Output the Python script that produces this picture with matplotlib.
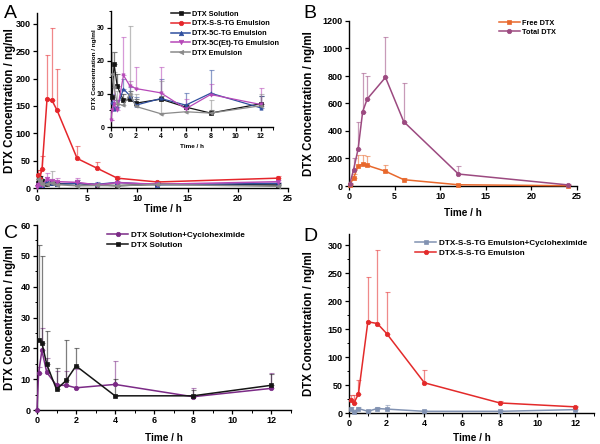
import numpy as np
import matplotlib
matplotlib.use("Agg")
import matplotlib.pyplot as plt
from matplotlib.ticker import MultipleLocator

plt.rcParams['font.family'] = ['Liberation Sans', 'DejaVu Sans']
plt.rcParams['font.weight'] = 'bold'

# ---------------- data ----------------
# Values are means; *_top are the tops of the (upper-only) error bars.
# Panel A (main + inset) time points, h
tA = [0.083, 0.25, 0.5, 1, 1.5, 2, 4, 6, 8, 12, 24]
sol_A = [9, 19, 12.3, 8.0, 8.3, 7.2, 8.4, 6.0, 4.2, 7.0, 5.5]
sol_A_top = [12, 22.7, 16, 10, 11, 8.5, 9.5, 7, 5, 9.5, 7]
ss_A = [24, 17, 34, 163, 160, 142, 54, 36, 18, 11, 18]
ss_A_top = [32, 33, 59, 244, 292, 217, 77, 48, 22, 13, 22]
c5_A = [7.5, 5.5, 6, 11.5, 9.5, 6.6, 8.6, 6.6, 10.2, 5.8, 8.5]
c5_A_top = [10, 8, 8, 14.5, 12, 9, 14.5, 10.2, 17.2, 9.5, 10]
tA_et = [0, 0.083, 0.25, 0.5, 1, 1.5, 2, 4, 6, 8, 12, 24]
c5et_A = [2, 5, 7, 5, 15.6, 12.5, 11.6, 10.3, 5.5, 9.8, 6.8, 11.5]
c5et_A_top = [2, 8, 12, 8, 27.3, 14, 18.2, 18, 8.3, 13, 11.8, 14]
emu_A = [16, 12, 7, 6.5, 10, 6.2, 4, 4.6, 4.2, 6.4, 3]
emu_A_top = [22.5, 16.5, 11, 8, 30.6, 10, 14, 6.5, 8, 10, 5]
labels_A = ["DTX Solution", "DTX-S-S-TG Emulsion", "DTX-5C-TG Emulsion",
            "DTX-5C(Et)-TG Emulsion", "DTX Emulsion"]

# Panel B
tB = [0.083, 0.5, 1, 1.5, 2, 4, 6, 12, 24]
free_B = [10, 58, 145, 160, 150, 107, 46, 9, 2]
free_B_top = [15, 90, 225, 225, 215, 155, 55, 12, 4]
total_B = [15, 118, 270, 541, 633, 790, 468, 87, 8]
total_B_top = [25, 205, 465, 820, 800, 1080, 750, 148, 15]
labels_B = ["Free DTX", "Total DTX"]

# Panel C
tC_cyc = [0, 0.083, 0.25, 0.5, 1, 1.5, 2, 4, 8, 12]
cyc_C = [0, 12, 19.3, 12.2, 8.0, 8.0, 7.2, 8.3, 4.3, 7.0]
cyc_C_top = [0, 14, 26.5, 17, 12.5, 12.5, 13.3, 16, 7, 12]
tC = [0.083, 0.25, 0.5, 1, 1.5, 2, 4, 8, 12]
sol_C = [22.7, 21.8, 14.8, 6.7, 9.6, 14.3, 4.6, 4.6, 8.0]
sol_C_top = [53.5, 49.8, 25.6, 13.5, 22.7, 20.2, 10, 6.5, 11.8]
labels_C = ["DTX Solution+Cycloheximide", "DTX Solution"]

# Panel D
tD = [0.083, 0.25, 0.5, 1, 1.5, 2, 4, 8, 12]
cycD = [8, 2, 8, 3, 8, 7, 3, 3, 6]
cycD_top = [10, 4, 10, 5, 10, 15, 6, 5, 8]
ssD = [24, 17, 34, 163, 160, 142, 54, 18, 11]
ssD_top = [32, 33, 59, 244, 292, 217, 77, 22, 13]
labels_D = ["DTX-S-S-TG Emulsion+Cycloheximide", "DTX-S-S-TG Emulsion"]

# ---------------- style helpers ----------------
W, H = 600, 444
fig = plt.figure(figsize=(6.0, 4.44), dpi=100)


def px_axes(left, right, bottom, top):
    return fig.add_axes([left / W, 1 - bottom / H, (right - left) / W, (bottom - top) / H])


def style(ax, fs=6.5):
    for s in ['top', 'right']:
        ax.spines[s].set_visible(False)
    for s in ['left', 'bottom']:
        ax.spines[s].set_linewidth(1.0)
    ax.tick_params(which='major', direction='out', length=3, width=0.9, labelsize=fs, pad=1.5)
    ax.tick_params(which='minor', direction='out', length=1.8, width=0.7)
    for lab in ax.get_xticklabels() + ax.get_yticklabels():
        lab.set_fontweight('bold')


def series(ax, x, y, top, color, marker, label, ms=3.2, lw=1.1, ealpha=0.55):
    y = np.asarray(y, float)
    up = np.clip(np.asarray(top, float) - y, 0, None)
    line, = ax.plot(x, y, color=color, marker=marker, ms=ms, lw=lw, label=label,
                    markeredgewidth=0.5, clip_on=False, zorder=3)
    ax.errorbar(x, y, yerr=[np.zeros(len(up)), up], fmt='none', ecolor=color,
                elinewidth=0.9, capsize=1.8, capthick=0.8, alpha=ealpha, zorder=2)
    return line


def labels(ax, xl, yl, xpos, ypos, fsx=7.2, fsy=8.3):
    ax.set_xlabel(xl, fontsize=fsx, fontweight='bold', va='center')
    ax.set_ylabel(yl, fontsize=fsy, fontweight='bold', va='center')
    ax.xaxis.set_label_coords(*xpos)
    ax.yaxis.set_label_coords(*ypos)


c_black = '#151515'
c_red = '#e5262b'
c_blue = '#2f4f9f'
c_mag = '#b648b8'
c_gray = '#8a8a8a'

# ---------------- Panel A ----------------
axA = px_axes(37, 288, 188, 13)
lA = []
lA.append(series(axA, tA, sol_A, sol_A_top, c_black, 's', labels_A[0]))
lA.append(series(axA, tA, ss_A, ss_A_top, c_red, 'o', labels_A[1]))
lA.append(series(axA, tA, c5_A, c5_A_top, c_blue, '^', labels_A[2]))
lA.append(series(axA, tA_et, c5et_A, c5et_A_top, c_mag, 'v', labels_A[3]))
lA.append(series(axA, tA, emu_A, emu_A_top, c_gray, '<', labels_A[4]))
axA.set_xlim(0, 25)
axA.set_ylim(0, 320)
axA.xaxis.set_major_locator(MultipleLocator(5))
axA.yaxis.set_major_locator(MultipleLocator(50))
style(axA)
labels(axA, "Time / h", "DTX Concentration / ng/ml", (0.5, -0.12), (-0.108, 0.5))

# inset
axI = px_axes(111, 273, 127, 11)
series(axI, tA[:-1], sol_A[:-1], sol_A_top[:-1], c_black, 's', labels_A[0], ms=2.4, lw=0.9)
series(axI, tA[:-1], c5_A[:-1], c5_A_top[:-1], c_blue, '^', labels_A[2], ms=2.4, lw=0.9)
series(axI, tA_et[:-1], c5et_A[:-1], c5et_A_top[:-1], c_mag, 'v', labels_A[3], ms=2.4, lw=0.9)
series(axI, tA[:-1], emu_A[:-1], emu_A_top[:-1], c_gray, '<', labels_A[4], ms=2.4, lw=0.9)
axI.set_xlim(0, 13)
axI.set_ylim(0, 35)
axI.xaxis.set_major_locator(MultipleLocator(2))
axI.xaxis.set_minor_locator(MultipleLocator(1))
axI.yaxis.set_major_locator(MultipleLocator(10))
axI.yaxis.set_minor_locator(MultipleLocator(5))
style(axI, fs=5)
axI.patch.set_alpha(0)
labels(axI, "Time / h", "DTX Concentration / ng/ml", (0.5, -0.165), (-0.1, 0.5), fsx=4.6, fsy=4.6)
axI.legend(handles=lA, loc='upper left', bbox_to_anchor=(171 / W, 1 - 10.5 / H),
           bbox_transform=fig.transFigure, frameon=False, borderpad=0, borderaxespad=0,
           labelspacing=0.35, handlelength=2.6, handletextpad=0.3,
           prop={'weight': 'bold', 'size': 5.3})

# ---------------- Panel B ----------------
c_free = '#e8682c'
c_total = '#9c4a80'
axB = px_axes(349, 577, 186, 21)
lB = [series(axB, tB, free_B, free_B_top, c_free, 's', labels_B[0]),
      series(axB, tB, total_B, total_B_top, c_total, 'o', labels_B[1])]
axB.set_xlim(0, 25)
axB.set_ylim(0, 1200)
axB.xaxis.set_major_locator(MultipleLocator(5))
axB.yaxis.set_major_locator(MultipleLocator(200))
style(axB)
labels(axB, "Time / h", "DTX Concentration / ng/ml", (0.5, -0.165), (-0.175, 0.5))
axB.legend(handles=lB, loc='upper left', bbox_to_anchor=(499 / W, 1 - 19.5 / H),
           bbox_transform=fig.transFigure, frameon=False, borderpad=0, borderaxespad=0,
           labelspacing=0.3, handlelength=2.8, handletextpad=0.3,
           prop={'weight': 'bold', 'size': 5.3})

# ---------------- Panel C ----------------
c_purp = '#7b2a86'
axC = px_axes(37, 290.5, 410, 225)
lC = [series(axC, tC_cyc, cyc_C, cyc_C_top, c_purp, 'o', labels_C[0]),
      series(axC, tC, sol_C, sol_C_top, c_black, 's', labels_C[1])]
axC.set_xlim(0, 13)
axC.set_ylim(0, 60)
axC.xaxis.set_major_locator(MultipleLocator(2))
axC.xaxis.set_minor_locator(MultipleLocator(1))
axC.yaxis.set_major_locator(MultipleLocator(10))
axC.yaxis.set_minor_locator(MultipleLocator(5))
style(axC)
labels(axC, "Time / h", "DTX Concentration / ng/ml", (0.5, -0.152), (-0.107, 0.5))
axC.legend(handles=lC, loc='upper left', bbox_to_anchor=(107 / W, 1 - 231 / H),
           bbox_transform=fig.transFigure, frameon=False, borderpad=0, borderaxespad=0,
           labelspacing=0.3, handlelength=2.6, handletextpad=0.3,
           prop={'weight': 'bold', 'size': 5.9})

# ---------------- Panel D ----------------
c_slate = '#8192b2'
c_red2 = '#e32a2a'
axD = px_axes(349, 594, 413, 234)
lD = [series(axD, tD, cycD, cycD_top, c_slate, 's', labels_D[0]),
      series(axD, tD, ssD, ssD_top, c_red2, 'o', labels_D[1])]
axD.set_xlim(0, 13)
axD.set_ylim(0, 320)
axD.xaxis.set_major_locator(MultipleLocator(2))
axD.xaxis.set_minor_locator(MultipleLocator(1))
axD.yaxis.set_major_locator(MultipleLocator(50))
axD.yaxis.set_minor_locator(MultipleLocator(25))
style(axD)
labels(axD, "Time / h", "DTX Concentration / ng/ml", (0.5, -0.14), (-0.163, 0.5))
axD.legend(handles=lD, loc='upper left', bbox_to_anchor=(415 / W, 1 - 239 / H),
           bbox_transform=fig.transFigure, frameon=False, borderpad=0, borderaxespad=0,
           labelspacing=0.3, handlelength=2.6, handletextpad=0.3,
           prop={'weight': 'bold', 'size': 5.9})

# panel letters
for letter, x, y in [("A", 4, 13), ("B", 303, 13), ("C", 4, 234), ("D", 303, 236)]:
    fig.text(x / W, 1 - y / H, letter, fontsize=14, fontweight='normal', va='center', ha='left')

fig.savefig("out.png", dpi=100)
